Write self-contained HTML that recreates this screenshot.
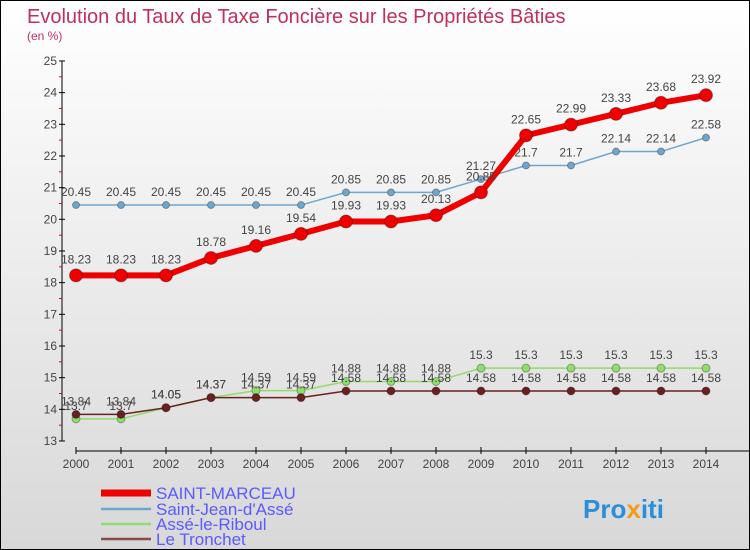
<!DOCTYPE html>
<html><head><meta charset="utf-8"><style>
body{margin:0}
#c{width:748px;height:548px;border:1px solid #000;background:linear-gradient(#fff,#d8d8d8);position:relative;overflow:hidden;font-family:"Liberation Sans","DejaVu Sans",sans-serif}
</style></head><body>
<div id="c">
<svg id="s" width="748" height="548" style="position:absolute;left:0;top:0">
<text x="26" y="22" font-size="20" fill="#c0305a">Evolution du Taux de Taxe Foncière sur les Propriétés Bâties</text>
<text x="26" y="39" font-size="12" fill="#c0305a">(en %)</text>
<g id="axes"></g><g id="series"></g>
<g>
<line x1="100" y1="492" x2="150" y2="492" stroke="#e00" stroke-width="7"/>
<text x="155" y="498" font-size="17" fill="#5a5aff">SAINT-MARCEAU</text>
<line x1="100" y1="508" x2="150" y2="508" stroke="#6ea6cc" stroke-width="2.5"/>
<text x="155" y="514" font-size="17" fill="#5a5aff">Saint-Jean-d'Assé</text>
<line x1="100" y1="523" x2="150" y2="523" stroke="#8fdd6a" stroke-width="2.5"/>
<text x="155" y="529" font-size="17" fill="#5a5aff">Assé-le-Riboul</text>
<line x1="100" y1="538" x2="150" y2="538" stroke="#8a4a4a" stroke-width="2.5"/>
<text x="155" y="544" font-size="17" fill="#5a5aff">Le Tronchet</text>
</g>
<text x="582" y="517" font-size="26" font-weight="bold" fill="#2a8fd8">Pro<tspan fill="#f29a1a">x</tspan>iti</text>
</svg>
</div>
<script>
const years=[2000,2001,2002,2003,2004,2005,2006,2007,2008,2009,2010,2011,2012,2013,2014];
const yTicks=[13,14,15,16,17,18,19,20,21,22,23,24,25];
const saintMarceau=[18.23,18.23,18.23,18.78,19.16,19.54,19.93,19.93,20.13,20.85,22.65,22.99,23.33,23.68,23.92];
const saintJean=[20.45,20.45,20.45,20.45,20.45,20.45,20.85,20.85,20.85,21.27,21.7,21.7,22.14,22.14,22.58];
const asse=[13.7,13.7,14.05,14.37,14.59,14.59,14.88,14.88,14.88,15.3,15.3,15.3,15.3,15.3,15.3];
const tronchet=[13.84,13.84,14.05,14.37,14.37,14.37,14.58,14.58,14.58,14.58,14.58,14.58,14.58,14.58,14.58];
const NS="http://www.w3.org/2000/svg";
const xS=i=>75+i*45, yS=v=>440-(v-13)*31.67;
function mk(t,a,p){const e=document.createElementNS(NS,t);for(const k in a)e.setAttribute(k,a[k]);p.appendChild(e);return e;}
const ax=document.getElementById('axes'), se=document.getElementById('series');
let l=mk('line',{x1:61,y1:60,x2:61,y2:440,stroke:'#000'},ax);


l=mk('line',{x1:75,y1:450,x2:748,y2:450,stroke:'#000'},ax);


yTicks.forEach(v=>{mk('line',{x1:58,y1:yS(v),x2:64,y2:yS(v),stroke:'#000'},ax);
 if(v<25)mk('line',{x1:58,y1:yS(v+0.5),x2:61,y2:yS(v+0.5),stroke:'#e00'},ax);
 const t=mk('text',{x:56,y:yS(v)+4,'font-size':12,'text-anchor':'end',fill:'#444'},ax);t.textContent=v;
 
 });
years.forEach((y,i)=>{mk('line',{x1:xS(i),y1:446,x2:xS(i),y2:453,stroke:'#000'},ax);
 const t=mk('text',{x:xS(i),y:467,'font-size':12,'text-anchor':'middle',fill:'#444'},ax);t.textContent=y;
 
 });
function draw(data,color,w,r,name,dy){
 const g=mk('g',{},se);
 
 
 mk('polyline',{points:data.map((v,i)=>xS(i)+','+yS(v)).join(' '),fill:'none',stroke:color,'stroke-width':w},g);
 data.forEach((v,i)=>{const c=mk('circle',{cx:xS(i),cy:yS(v),r:r,fill:color,stroke:'rgba(0,0,0,0.3)'},g);
  
  
  const t=mk('text',{x:xS(i),y:yS(v)+dy,'font-size':12,'text-anchor':'middle',fill:'#444'},g);t.textContent=v;
  
  });
}
draw(saintJean,'#6ea6cc',1.5,3.5,'saint-jean',-9);
draw(asse,'#8fdd6a',1.5,4,'asse',-9);
draw(tronchet,'#6a2020',1.5,4,'tronchet',-9);
draw(saintMarceau,'#e00',6,6.5,'saint-marceau',-12);
</script>
</body></html>
